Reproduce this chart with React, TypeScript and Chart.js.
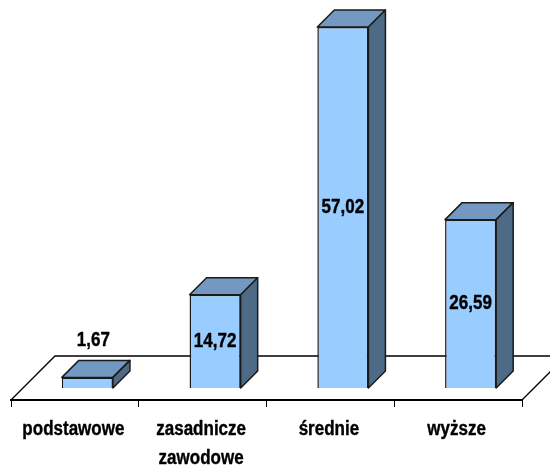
import React, { useEffect, useRef } from "react";
import { Chart, registerables } from "chart.js";

Chart.register(...registerables);

const categories = [["podstawowe"], ["zasadnicze", "zawodowe"], ["średnie"], ["wyższe"]];
const values = [1.67, 14.72, 57.02, 26.59];
const valueLabels = ["1,67", "14,72", "57,02", "26,59"];

const FRONT = "#99CCFF";
const TOP = "#7399C2";
const SIDE = "#4D6A87";
const EDGE = "#1a1a1a";
const DEPTH = 17;
const SHIFT = 12.5;
const FLOOR_DEPTH = 44;
const SQUEEZE = 0.85;
const FONT = "bold 20px 'Liberation Sans', Arial, sans-serif";

const poly = (ctx: CanvasRenderingContext2D, pts: number[][], fill: string) => {
  ctx.beginPath();
  pts.forEach(([x, y], i) => (i ? ctx.lineTo(x, y) : ctx.moveTo(x, y)));
  ctx.closePath();
  ctx.fillStyle = fill;
  ctx.fill();
  ctx.stroke();
};

const squeezedText = (ctx: CanvasRenderingContext2D, text: string, x: number, y: number) => {
  ctx.save();
  ctx.translate(x, y);
  ctx.scale(SQUEEZE, 1);
  ctx.fillStyle = "#000";
  ctx.strokeStyle = "#000";
  ctx.lineWidth = 0.4;
  ctx.font = FONT;
  ctx.textAlign = "center";
  ctx.textBaseline = "middle";
  ctx.fillText(text, 0, 0);
  ctx.strokeText(text, 0, 0);
  ctx.restore();
};

const box3d = {
  id: "box3d",
  afterDatasetsUpdate(chart: any) {
    chart.getDatasetMeta(0).data.forEach((el: any) => {
      el.x += SHIFT;
    });
  },
  beforeDatasetsDraw(chart: any) {
    const { ctx, chartArea: a } = chart;
    ctx.save();
    ctx.strokeStyle = "#000";
    ctx.lineWidth = 1.3;
    ctx.beginPath();
    ctx.moveTo(a.left, a.bottom);
    ctx.lineTo(a.left + FLOOR_DEPTH, a.bottom - FLOOR_DEPTH);
    ctx.lineTo(a.right + FLOOR_DEPTH, a.bottom - FLOOR_DEPTH);
    ctx.lineTo(a.right, a.bottom);
    ctx.stroke();
    ctx.restore();
  },
  afterDatasetsDraw(chart: any) {
    const { ctx, chartArea: a } = chart;
    ctx.save();
    ctx.strokeStyle = EDGE;
    ctx.lineWidth = 1.5;
    ctx.lineJoin = "round";
    chart.getDatasetMeta(0).data.forEach((el: any) => {
      const half = el.width / 2;
      const l = el.x - half;
      const r = el.x + half;
      poly(ctx, [[l, el.y], [l + DEPTH, el.y - DEPTH], [r + DEPTH, el.y - DEPTH], [r, el.y]], TOP);
      poly(ctx, [[r, el.y], [r + DEPTH, el.y - DEPTH], [r + DEPTH, el.base - DEPTH], [r, el.base]], SIDE);
    });
    chart.getDatasetMeta(0).data.forEach((el: any, i: number) => {
      const tall = el.base - el.y > 40;
      const x = tall ? el.x : el.x + 6;
      const y = tall ? (el.y + el.base) / 2 : el.y - DEPTH - 20;
      squeezedText(ctx, valueLabels[i], x, y);
    });
    categories.forEach((lines, i) => {
      const x = chart.scales.x.getPixelForTick(i) - 1.5;
      lines.forEach((line, j) => squeezedText(ctx, line, x, a.bottom + 29 + j * 29));
    });
    ctx.restore();
  },
};

export default function App() {
  const ref = useRef<HTMLCanvasElement>(null);
  useEffect(() => {
    document.body.style.margin = "0";
    const chart = new Chart(ref.current!, {
      type: "bar",
      data: {
        labels: categories,
        datasets: [
          {
            data: values,
            backgroundColor: FRONT,
            borderColor: EDGE,
            borderWidth: 1.5,
            barPercentage: 1,
            categoryPercentage: 0.4,
          },
        ],
      },
      options: {
        responsive: false,
        animation: false,
        layout: { padding: { left: 11, right: 28, top: 10, bottom: 0 } },
        plugins: { legend: { display: false }, tooltip: { enabled: false } },
        scales: {
          y: { display: false, min: -1.9, max: 59.7 },
          x: {
            afterFit(s: any) {
              s.height = 68;
            },
            border: { color: "#000", width: 2 },
            grid: { drawOnChartArea: false, color: "#000", tickLength: 7, tickWidth: 1 },
            ticks: { display: false, maxRotation: 0, autoSkip: false },
          },
        },
      },
      plugins: [box3d],
    } as any);
    return () => chart.destroy();
  }, []);
  return <canvas ref={ref} width={550} height={468} style={{ display: "block" }} />;
}
